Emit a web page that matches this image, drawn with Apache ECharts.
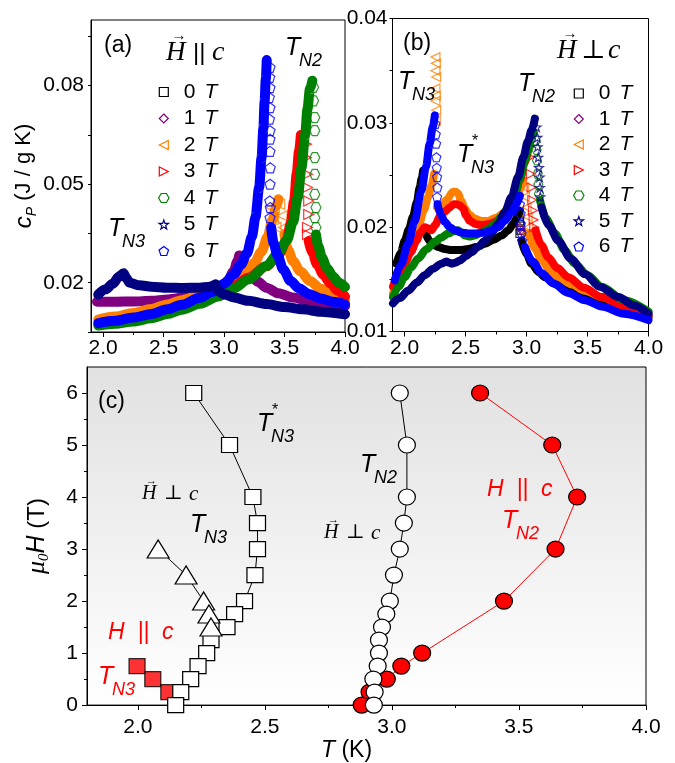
<!DOCTYPE html>
<html>
<head>
<meta charset="utf-8">
<script src="https://cdn.jsdelivr.net/npm/echarts@6/dist/echarts.min.js"></script>
<style>
html,body{margin:0;padding:0;background:#fff;}
#chart{width:675px;height:763px;}
</style>
</head>
<body>
<div id="chart"></div>
<script>
// ---------- field labels and tick values ----------
const fieldNames = ['0 T', '1 T', '2 T', '3 T', '4 T', '5 T', '6 T'];
const tTicksTop = [2.0, 2.5, 3.0, 3.5, 4.0];
const tMinorTop = [2.25, 2.75, 3.25, 3.75];
const cpTicksA = [0.005, 0.02, 0.035, 0.05, 0.065, 0.08, 0.095];
const cpLabelsA = [0.02, 0.05, 0.08];
const cpTicksB = [0.01, 0.015, 0.02, 0.025, 0.03, 0.035, 0.04];
const cpLabelsB = [0.01, 0.02, 0.03, 0.04];
const tTicksC = [2.0, 2.5, 3.0, 3.5, 4.0];
const tMinorC = [2.25, 2.75, 3.25, 3.75];
const hTicksC = [0, 1, 2, 3, 4, 5, 6];
const hMinorC = [0.5, 1.5, 2.5, 3.5, 4.5, 5.5];

// ---------- panel (a): H || c, c_P (J/g K) vs T (K) ----------
// bands below / above each transition, and the sparse points measured inside the jump
const a1Low = [[1.95,0.0142],[2.1,0.0142],[2.25,0.0143],[2.4,0.0145],[2.53,0.0149],[2.65,0.0154],[2.8,0.0164],[2.9,0.0174],[2.97,0.0185],[3.03,0.0205],[3.08,0.0235],[3.11,0.0265],[3.125,0.0283]];
const a1High = [[3.15,0.0266],[3.2,0.0232],[3.28,0.0203],[3.35,0.0185],[3.45,0.0168],[3.57,0.0155],[3.7,0.0145],[3.85,0.0136],[4.0,0.0129]];
const a2Low = [[1.96,0.0088],[2.1,0.0097],[2.25,0.0108],[2.4,0.0120],[2.53,0.0134],[2.65,0.0147],[2.8,0.0162],[2.95,0.0182],[3.08,0.0205],[3.17,0.0228],[3.25,0.0260],[3.31,0.0295],[3.36,0.0340],[3.40,0.0390],[3.43,0.0430],[3.45,0.0454]];
const a2Jump = [[3.39,0.0429],[3.41,0.0398],[3.46,0.0439],[3.48,0.0404],[3.49,0.0368],[3.43,0.0368]];
const a2High = [[3.50,0.0347],[3.53,0.0300],[3.57,0.0266],[3.63,0.0235],[3.71,0.0205],[3.8,0.0182],[3.9,0.0164],[4.0,0.0146]];
const a3Low = [[2.6,0.0118],[2.8,0.0142],[2.95,0.0165],[3.08,0.0190],[3.2,0.0215],[3.35,0.0250],[3.45,0.0285],[3.52,0.0330],[3.55,0.0380],[3.58,0.0450],[3.60,0.0530],[3.62,0.0600],[3.635,0.0650]];
const a3Jump = [[3.68,0.0622],[3.68,0.0581],[3.69,0.0530],[3.69,0.0490],[3.70,0.0449],[3.70,0.0408],[3.69,0.0368],[3.69,0.0347]];
const a3High = [[3.70,0.0327],[3.73,0.0290],[3.77,0.0256],[3.82,0.0225],[3.88,0.0198],[3.94,0.0176],[4.0,0.0158]];
const a4Low = [[1.96,0.0070],[2.1,0.0075],[2.25,0.0082],[2.4,0.0092],[2.53,0.0105],[2.65,0.0118],[2.8,0.0136],[2.95,0.0158],[3.08,0.0183],[3.2,0.0210],[3.35,0.0251],[3.45,0.0290],[3.52,0.0330],[3.57,0.0385],[3.61,0.0460],[3.64,0.0550],[3.67,0.0650],[3.69,0.0730],[3.71,0.0790],[3.73,0.0815]];
const a4Jump = [[3.74,0.0795],[3.74,0.0754],[3.75,0.0703],[3.75,0.0663],[3.75,0.0581],[3.75,0.0530],[3.75,0.0469],[3.76,0.0429],[3.75,0.0398],[3.76,0.0368]];
const a4High = [[3.76,0.0347],[3.78,0.0310],[3.81,0.0276],[3.85,0.0245],[3.9,0.0220],[3.95,0.0200],[4.0,0.0187]];
const a5Low = [[1.96,0.0164],[2.02,0.0180],[2.08,0.0197],[2.13,0.0218],[2.17,0.0229],[2.19,0.0215],[2.22,0.0200],[2.3,0.0192],[2.4,0.0188],[2.53,0.0185],[2.65,0.0184],[2.8,0.0185],[2.88,0.0188],[2.93,0.0195]];
const a5High = [[2.95,0.0178],[3.0,0.0165],[3.08,0.0155],[3.2,0.0145],[3.35,0.0135],[3.5,0.0126],[3.65,0.0119],[3.8,0.0112],[4.0,0.0104]];
const a6Low = [[1.96,0.0077],[2.1,0.0084],[2.25,0.0094],[2.4,0.0105],[2.53,0.0119],[2.65,0.0133],[2.8,0.0154],[2.9,0.0172],[3.0,0.0197],[3.08,0.0225],[3.14,0.0255],[3.19,0.0290],[3.23,0.0340],[3.26,0.0400],[3.29,0.0490],[3.31,0.0580],[3.325,0.0670],[3.335,0.0750],[3.345,0.0820],[3.353,0.0878]];
const a6Jump = [[3.38,0.0856],[3.378,0.0825],[3.38,0.0794],[3.374,0.0764],[3.38,0.0733],[3.376,0.0698],[3.38,0.0663],[3.38,0.0637],[3.38,0.0600],[3.382,0.0550],[3.38,0.0500],[3.378,0.0449],[3.382,0.0429],[3.38,0.0398]];
const a6High = [[3.39,0.0368],[3.41,0.0320],[3.44,0.0285],[3.49,0.0240],[3.55,0.0205],[3.62,0.0183],[3.7,0.0166],[3.8,0.0152],[3.9,0.0142],[4.0,0.0134]];

// ---------- panel (b): H perpendicular to c ----------
const b0Low = [[1.932,0.0165],[1.97,0.0176],[2.0,0.0187],[2.035,0.0198],[2.068,0.0210],[2.1,0.0224],[2.123,0.0238],[2.14,0.0247],[2.151,0.0254]];
const b0Mid = [[2.175,0.0193],[2.21,0.0186],[2.274,0.0181],[2.33,0.0179],[2.384,0.0178],[2.45,0.0178],[2.521,0.0179],[2.59,0.0181],[2.658,0.0184],[2.73,0.0188],[2.795,0.0192],[2.85,0.0197],[2.89,0.0203],[2.92,0.0209],[2.945,0.0216]];
const b0Jump = [[2.937,0.0210],[2.943,0.0206],[2.948,0.0201],[2.953,0.0197],[2.945,0.0194]];
const b0High = [[2.959,0.0187],[3.0,0.0174],[3.041,0.0165],[3.1,0.0157],[3.151,0.0152],[3.25,0.0145],[3.342,0.0139],[3.48,0.0133],[3.616,0.0128],[3.8,0.0121],[4.0,0.0114]];
const b1Jump = [[2.945,0.0200],[2.959,0.0197],[2.973,0.0194]];
const b2Low = [[1.904,0.0136],[1.95,0.0152],[2.0,0.0168],[2.05,0.0183],[2.11,0.0200],[2.16,0.0217],[2.192,0.0229],[2.22,0.0240],[2.241,0.0251]];
const b2Jump = [[2.252,0.0363],[2.255,0.0357],[2.252,0.0350],[2.258,0.0344],[2.252,0.0333],[2.255,0.0326],[2.252,0.0321],[2.258,0.0312],[2.255,0.0302]];
const b2Mid = [[2.265,0.0219],[2.29,0.0218],[2.342,0.0226],[2.397,0.0234],[2.42,0.0234],[2.438,0.0232],[2.465,0.0225],[2.493,0.0218],[2.53,0.0212],[2.575,0.0208],[2.63,0.0206],[2.685,0.0206],[2.75,0.0209],[2.822,0.0214],[2.87,0.0220],[2.918,0.0229],[2.95,0.0237],[2.973,0.0245]];
const b2Jump2 = [[2.981,0.0238],[2.986,0.0229],[3.0,0.0219],[3.008,0.0210],[3.014,0.0200],[3.003,0.0194]];
const b2High = [[3.019,0.0194],[3.07,0.0179],[3.123,0.0168],[3.19,0.0159],[3.26,0.0152],[3.37,0.0145],[3.479,0.0139],[3.62,0.0133],[3.753,0.0127],[3.88,0.0121],[4.0,0.0115]];
const b3Low = [[1.904,0.0143],[1.95,0.0154],[2.0,0.0165],[2.05,0.0176],[2.096,0.0187],[2.13,0.0195],[2.164,0.0200],[2.19,0.0199],[2.219,0.0197],[2.25,0.0202],[2.288,0.0210],[2.33,0.0215],[2.37,0.0219],[2.40,0.0222],[2.425,0.0222],[2.45,0.0221],[2.479,0.0218],[2.505,0.0211],[2.534,0.0206],[2.58,0.0203],[2.63,0.0202],[2.69,0.0203],[2.74,0.0205],[2.8,0.0210],[2.849,0.0218],[2.9,0.0230],[2.945,0.0245],[2.98,0.0260],[3.014,0.0274]];
const b3Jump = [[3.027,0.0267],[3.036,0.0251],[3.041,0.0238],[3.047,0.0226],[3.052,0.0216],[3.058,0.0207],[3.063,0.0200]];
const b3High = [[3.074,0.0197],[3.12,0.0183],[3.178,0.0171],[3.25,0.0161],[3.342,0.0152],[3.47,0.0142],[3.616,0.0133],[3.8,0.0124],[4.0,0.0115]];
const b4Low = [[1.904,0.0133],[1.95,0.0143],[2.0,0.0152],[2.05,0.0161],[2.11,0.0170],[2.18,0.0179],[2.247,0.0186],[2.3,0.0190],[2.356,0.0194],[2.40,0.0196],[2.438,0.0197],[2.465,0.0195],[2.493,0.0192],[2.53,0.0191],[2.575,0.0192],[2.63,0.0195],[2.685,0.0198],[2.74,0.0203],[2.795,0.0210],[2.85,0.0219],[2.904,0.0232],[2.95,0.0248],[2.986,0.0264],[3.015,0.0276],[3.041,0.0286],[3.055,0.0291]];
const b4Jump = [[3.074,0.0283],[3.082,0.0274],[3.085,0.0264],[3.09,0.0251],[3.096,0.0241],[3.101,0.0232]];
const b4High = [[3.11,0.0226],[3.16,0.0208],[3.233,0.0194],[3.31,0.0178],[3.397,0.0165],[3.5,0.0154],[3.616,0.0143],[3.8,0.0130],[4.0,0.0119]];
const b5Low = [[1.904,0.0127],[1.96,0.0132],[2.027,0.0139],[2.1,0.0147],[2.164,0.0154],[2.23,0.0160],[2.301,0.0165],[2.342,0.0167],[2.365,0.0166],[2.384,0.0165],[2.415,0.0166],[2.452,0.0168],[2.5,0.0172],[2.548,0.0176],[2.6,0.0181],[2.658,0.0187],[2.71,0.0194],[2.767,0.0203],[2.82,0.0214],[2.877,0.0229],[2.93,0.0248],[2.973,0.0267],[3.01,0.0282],[3.041,0.0293],[3.068,0.0304]];
const b5Jump = [[3.082,0.0296],[3.088,0.0286],[3.09,0.0277],[3.096,0.0267],[3.101,0.0257],[3.107,0.0248],[3.11,0.0238],[3.112,0.0229]];
const b5High = [[3.123,0.0219],[3.18,0.0202],[3.26,0.0187],[3.36,0.0170],[3.479,0.0155],[3.6,0.0143],[3.753,0.0133],[3.88,0.0125],[4.0,0.0117]];
const b6Low = [[1.918,0.0149],[1.97,0.0164],[2.027,0.0184],[2.08,0.0205],[2.137,0.0235],[2.175,0.0258],[2.205,0.0280],[2.23,0.0296],[2.247,0.0307]];
const b6Jump = [[2.252,0.0299],[2.255,0.0289],[2.258,0.0280],[2.260,0.0267],[2.263,0.0257],[2.266,0.0248],[2.268,0.0238],[2.266,0.0229]];
const b6Mid = [[2.27,0.0222],[2.295,0.0212],[2.329,0.0205],[2.37,0.0200],[2.411,0.0197],[2.46,0.0195],[2.521,0.0194],[2.59,0.0194],[2.658,0.0195],[2.71,0.0197],[2.767,0.0200],[2.82,0.0206],[2.877,0.0214],[2.91,0.0221],[2.945,0.0230]];
const b6Jump2 = [[2.945,0.0222],[2.951,0.0213],[2.953,0.0203],[2.959,0.0194],[2.964,0.0187]];
const b6High = [[2.986,0.0181],[3.05,0.0167],[3.123,0.0156],[3.22,0.0146],[3.342,0.0137],[3.48,0.0130],[3.616,0.0124],[3.8,0.0117],[4.0,0.0111]];

// ---------- panel (c): phase diagram, mu0H (T) vs T (K) ----------
const hStarPerp = [6, 5, 4, 3.5, 3, 2.5, 2, 1.75, 1.5, 1.25, 1, 0.75, 0.5, 0.25, 0];
const tStarPerp = [2.220, 2.361, 2.453, 2.471, 2.471, 2.461, 2.420, 2.381, 2.351, 2.288, 2.271, 2.237, 2.208, 2.169, 2.149];
const hN3Perp = [3, 2.5, 2, 1.75, 1.5];
const tN3Perp = [2.080, 2.190, 2.259, 2.280, 2.288];
const hN3Par = [0.75, 0.5, 0.25];
const tN3Par = [1.997, 2.059, 2.122];
const hN2Perp = [6, 5, 4, 3.5, 3, 2.5, 2, 1.75, 1.5, 1.25, 1, 0.75, 0.5, 0.25, 0];
const tN2Perp = [3.031, 3.059, 3.059, 3.047, 3.031, 3.008, 2.992, 2.978, 2.961, 2.949, 2.949, 2.944, 2.927, 2.932, 2.929];
const hN2Par = [6, 5, 4, 3, 2, 1, 0.75, 0.5, 0.25, 0];
const tN2Par = [3.347, 3.631, 3.729, 3.644, 3.441, 3.119, 3.037, 2.980, 2.912, 2.881];

// ---------- styling ----------
const SANS = '"Liberation Sans", Arial, sans-serif';
const SERIF = '"Liberation Serif", "DejaVu Serif", serif';
const colors = ['#000000', '#800080', '#ff8000', '#ff0000', '#008000', '#000080', '#0000ff'];
const P_SQUARE = 'path://M0,0L10,0L10,10L0,10Z';
const P_DIAMOND = 'path://M5,0L10,5L5,10L0,5Z';
const P_LTRI = 'path://M0,5L10,0L10,10Z';
const P_RTRI = 'path://M10,5L0,0L0,10Z';
const P_HEX = 'path://M25,6.7L75,6.7L100,50L75,93.3L25,93.3L0,50Z';
const P_STAR = 'path://M50,0L61.76,33.82L97.55,34.55L69.02,56.18L79.39,90.45L50,70L20.61,90.45L30.98,56.18L2.45,34.55L38.24,33.82Z';
const P_PENT = 'path://M50,0L97.55,34.55L79.39,90.45L20.61,90.45L2.45,34.55Z';
const icons = [P_SQUARE, P_DIAMOND, P_LTRI, P_RTRI, P_HEX, P_STAR, P_PENT];

const pair = (ts, hs) => ts.map((t, i) => [t, hs[i]]);

function band(field, pts, grid, width, z) {
  return {
    type: 'line', name: fieldNames[field], xAxisIndex: grid === 0 ? 0 : 2, yAxisIndex: grid,
    data: pts, showSymbol: false, symbol: 'none', smooth: 0.3, smoothMonotone: 'x',
    lineStyle: { color: colors[field], width: width, cap: 'round', join: 'round' },
    itemStyle: { color: colors[field] }, z: z != null ? z : 2 + field, silent: true
  };
}
function marks(field, pts, grid, size, z) {
  return {
    type: 'scatter', name: fieldNames[field], xAxisIndex: grid === 0 ? 0 : 2, yAxisIndex: grid,
    data: pts, symbol: icons[field], symbolSize: size,
    itemStyle: { color: 'rgba(0,0,0,0)', borderColor: colors[field], borderWidth: 1.2 },
    z: z != null ? z : 2 + field, silent: true
  };
}

const legendData = fieldNames.map((n, i) => ({
  name: n, icon: icons[i],
  itemStyle: { color: 'rgba(0,0,0,0)', borderColor: colors[i], borderWidth: 1.2 }
}));
function legend(left, top, gap) {
  return {
    left: left, top: top, orient: 'vertical', itemWidth: 30, itemHeight: 9, itemGap: gap,
    selectedMode: false, data: legendData,
    formatter: n => '{n|' + n.split(' ')[0] + '}{t|T}',
    textStyle: {
      rich: {
        n: { fontFamily: SANS, fontSize: 21, color: '#000', lineHeight: 20 },
        t: { fontFamily: SANS, fontSize: 21, fontStyle: 'italic', color: '#000', lineHeight: 20, padding: [0, 0, 0, 9] }
      }
    }
  };
}

function tickAxis(gridIndex, min, max, ticks, labels, fmt, len, margin, extra) {
  return Object.assign({
    type: 'value', gridIndex: gridIndex, min: min, max: max,
    axisLine: { show: true, lineStyle: { color: '#000', width: 1 } },
    axisTick: { show: true, inside: false, length: len, customValues: ticks, lineStyle: { color: '#000', width: 1 } },
    axisLabel: { show: true, customValues: labels, formatter: fmt, fontFamily: SANS, fontSize: 21, color: '#000', margin: margin },
    splitLine: { show: false }
  }, extra || {});
}
function minorAxis(gridIndex, min, max, ticks, pos) {
  return {
    type: 'value', gridIndex: gridIndex, min: min, max: max, position: pos,
    axisLine: { show: false },
    axisTick: { show: true, inside: false, length: 3, customValues: ticks, lineStyle: { color: '#000', width: 1 } },
    axisLabel: { show: false }, splitLine: { show: false }
  };
}

// ---------- free text annotations ----------
function t(x, y, text, font, color) {
  return { type: 'text', x: x, y: y, z: 50,
    style: { text: text, font: font, fill: color || '#000', align: 'left', verticalAlign: 'middle' } };
}
function tn(x, y, sub, color, star) {
  const out = [t(x, y, 'T', 'italic 25px ' + SANS, color), t(x + 14, y + 13, sub, 'italic 18px ' + SANS, color)];
  if (star) out.push(t(x + 15, y - 13, '*', '16px ' + SANS, color));
  return out;
}
// vector H with a relation sign and c
function hvec(x, y, rel, size, relDx, cDx, relFont) {
  return [
    t(x, y, 'H', 'italic ' + size + 'px ' + SERIF),
    t(x + size * 0.2, y - size * 0.62, '\u2192', Math.round(size * 0.55) + 'px ' + SERIF),
    t(x + relDx, y, rel, relFont),
    t(x + cDx, y, 'c', 'italic ' + Math.round(size * 1.05) + 'px ' + SERIF)
  ];
}

const graphics = [].concat(
  [t(104, 46, '(a)', '23px ' + SANS), t(403, 44, '(b)', '23px ' + SANS), t(98, 402, '(c)', '23px ' + SANS)],
  hvec(166, 53, '||', 27, 27, 46, '24px ' + SANS),
  hvec(557, 51, '\u22A5', 27, 24, 51, '26px ' + SERIF),
  hvec(142, 494, '\u22A5', 20, 22, 47, '20px ' + SERIF),
  hvec(324, 533, '\u22A5', 20, 22, 47, '20px ' + SERIF),
  tn(285, 48, 'N2'), tn(108, 229, 'N3'),
  tn(398, 82, 'N3'), tn(518, 84, 'N2'), tn(457, 155, 'N3', '#000', true),
  tn(257, 424, 'N3', '#000', true), tn(190, 525, 'N3'), tn(360, 465, 'N2'),
  tn(502, 521, 'N2', '#ff0000'), tn(98, 677, 'N3', '#ff0000'),
  [t(487, 490, 'H  ||  c', 'italic 23px ' + SANS, '#ff0000'), t(108, 633, 'H  ||  c', 'italic 23px ' + SANS, '#ff0000')]
);

const WA = 10, WB = 8;
const series = [
  // panel (a)
  band(1, a1Low, 0, WA), band(1, a1High, 0, WA),
  band(2, a2Low, 0, WA), marks(2, a2Jump, 0, 10), band(2, a2High, 0, WA),
  band(3, a3Low, 0, WA), marks(3, a3Jump, 0, 10), band(3, a3High, 0, WA),
  band(4, a4Low, 0, WA), marks(4, a4Jump, 0, 10), band(4, a4High, 0, WA),
  band(6, a6Low, 0, WA), marks(6, a6Jump, 0, 10), band(6, a6High, 0, WA),
  band(5, a5Low, 0, WA, 9), band(5, a5High, 0, WA, 9),
  // panel (b)
  band(0, b0Low, 1, WB), band(0, b0Mid, 1, WB), marks(0, b0Jump, 1, 8), band(0, b0High, 1, WB),
  marks(1, b1Jump, 1, 8),
  band(2, b2Low, 1, WB), marks(2, b2Jump, 1, 9), band(2, b2Mid, 1, WB), marks(2, b2Jump2, 1, 9), band(2, b2High, 1, WB),
  band(3, b3Low, 1, WB), marks(3, b3Jump, 1, 9), band(3, b3High, 1, WB),
  band(4, b4Low, 1, WB), marks(4, b4Jump, 1, 9), band(4, b4High, 1, WB),
  band(5, b5Low, 1, WB), marks(5, b5Jump, 1, 9), band(5, b5High, 1, WB),
  band(6, b6Low, 1, WB), marks(6, b6Jump, 1, 9), band(6, b6Mid, 1, WB), marks(6, b6Jump2, 1, 9), band(6, b6High, 1, WB),
  // panel (c)
  { type: 'line', name: 'TN2 H||c', xAxisIndex: 4, yAxisIndex: 2, data: pair(tN2Par, hN2Par),
    symbol: 'circle', symbolSize: [17, 16], lineStyle: { color: '#ff0000', width: 1 },
    itemStyle: { color: '#ff0000', borderColor: '#000', borderWidth: 1.2 }, z: 3, silent: true },
  { type: 'scatter', name: 'TN3 H||c', xAxisIndex: 4, yAxisIndex: 2, data: pair(tN3Par, hN3Par),
    symbol: 'rect', symbolSize: [16, 15],
    itemStyle: { color: '#ff0000', borderColor: '#000', borderWidth: 1.2 }, z: 3, silent: true },
  { type: 'line', name: 'TN3* H perp c', xAxisIndex: 4, yAxisIndex: 2, data: pair(tStarPerp, hStarPerp),
    symbol: 'rect', symbolSize: [16, 15], lineStyle: { color: '#000', width: 1 },
    itemStyle: { color: '#fff', borderColor: '#000', borderWidth: 1.2 }, z: 4, silent: true },
  { type: 'line', name: 'TN3 H perp c', xAxisIndex: 4, yAxisIndex: 2, data: pair(tN3Perp, hN3Perp),
    symbol: 'triangle', symbolSize: [22, 18], lineStyle: { color: '#000', width: 1 },
    itemStyle: { color: '#fff', borderColor: '#000', borderWidth: 1.2 }, z: 5, silent: true },
  { type: 'line', name: 'TN2 H perp c', xAxisIndex: 4, yAxisIndex: 2, data: pair(tN2Perp, hN2Perp),
    symbol: 'circle', symbolSize: [17, 16], lineStyle: { color: '#000', width: 1 },
    itemStyle: { color: '#fff', borderColor: '#000', borderWidth: 1.2 }, z: 4, silent: true }
];

const option = {
  animation: false,
  backgroundColor: '#fff',
  grid: [
    { left: 91, top: 20, width: 254, height: 312, show: true, borderColor: '#000', borderWidth: 1, backgroundColor: 'transparent' },
    { left: 392.5, top: 18.5, width: 256, height: 313, show: true, borderColor: '#000', borderWidth: 1, backgroundColor: 'transparent' },
    { left: 87, top: 367, width: 559, height: 343, show: true, borderColor: '#000', borderWidth: 1,
      backgroundColor: { type: 'linear', x: 0, y: 0, x2: 0, y2: 1,
        colorStops: [{ offset: 0, color: '#e1e1e1' }, { offset: 1, color: '#ffffff' }] } }
  ],
  xAxis: [
    tickAxis(0, 1.9, 4.0, tTicksTop, tTicksTop, v => v.toFixed(1), 5, 6, { position: 'bottom' }),
    minorAxis(0, 1.9, 4.0, tMinorTop, 'bottom'),
    tickAxis(1, 1.9, 4.0, tTicksTop, tTicksTop, v => v.toFixed(1), 5, 6, { position: 'bottom' }),
    minorAxis(1, 1.9, 4.0, tMinorTop, 'bottom'),
    tickAxis(2, 1.8, 4.0, tTicksC, tTicksC, v => v.toFixed(1), 5, 12, {
      position: 'bottom', name: '{t|T}{u| (K)}', nameLocation: 'middle', nameGap: 31,
      nameTextStyle: { padding: [0, 40, 0, 0], rich: {
        t: { fontFamily: SANS, fontSize: 23, fontStyle: 'italic', color: '#000' },
        u: { fontFamily: SANS, fontSize: 23, color: '#000' } } } }),
    minorAxis(2, 1.8, 4.0, tMinorC, 'bottom')
  ],
  yAxis: [
    tickAxis(0, 0.005, 0.1, cpTicksA, cpLabelsA, v => v.toFixed(2), 3, 7, {
      position: 'left', name: '{c|c}{p|P}{u| (J / g K)}', nameLocation: 'middle', nameGap: 50, nameRotate: 90,
      nameTextStyle: { rich: {
        c: { fontFamily: SANS, fontSize: 24, fontStyle: 'italic', color: '#000', lineHeight: 30, verticalAlign: 'middle' },
        p: { fontFamily: SANS, fontSize: 14, fontStyle: 'italic', color: '#000', lineHeight: 30, verticalAlign: 'bottom' },
        u: { fontFamily: SANS, fontSize: 22, color: '#000', lineHeight: 30, verticalAlign: 'middle' } } } }),
    tickAxis(1, 0.01, 0.04, cpTicksB, cpLabelsB, v => v.toFixed(2), 3, 5, { position: 'left' }),
    tickAxis(2, 0, 6.5, hTicksC, hTicksC, v => String(v), 5, 9, {
      position: 'left', name: '{m|\u03BC}{z|0}{h|H}{u| (T)}', nameLocation: 'middle', nameGap: 35, nameRotate: 90,
      nameTextStyle: { rich: {
        m: { fontFamily: SERIF, fontSize: 26, fontStyle: 'italic', color: '#000', lineHeight: 30, verticalAlign: 'middle' },
        z: { fontFamily: SERIF, fontSize: 15, fontStyle: 'italic', color: '#000', lineHeight: 30, verticalAlign: 'bottom' },
        h: { fontFamily: SANS, fontSize: 25, fontStyle: 'italic', color: '#000', lineHeight: 30, verticalAlign: 'middle' },
        u: { fontFamily: SANS, fontSize: 24, color: '#000', lineHeight: 30, verticalAlign: 'middle' } } } }),
    minorAxis(2, 0, 6.5, hMinorC, 'left')
  ],
  legend: [legend(153, 76.5, 5.5), legend(568, 78, 4.5)],
  graphic: graphics,
  series: series
};

const chart = echarts.init(document.getElementById('chart'), null, { renderer: 'canvas' });
chart.setOption(option);
</script>
</body>
</html>
